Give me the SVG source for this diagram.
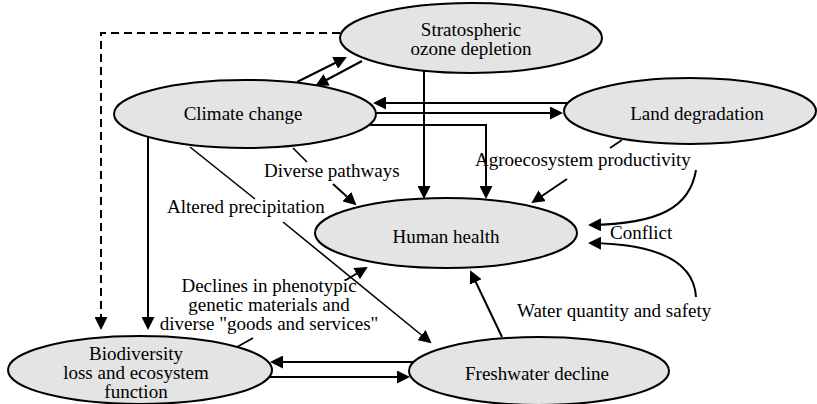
<svg xmlns="http://www.w3.org/2000/svg" width="817" height="404" viewBox="0 0 817 404">
<style>
.node ellipse{fill:#e4e4e4;stroke:#000;stroke-width:2}
text{font-family:"Liberation Serif","Times New Roman",serif;font-size:19px;fill:#000}
.c{text-anchor:middle}
.edge{fill:none;stroke:#000;stroke-width:2}
.thin{fill:none;stroke:#000;stroke-width:1.6}
.dash{stroke-dasharray:8 5}
</style>
<defs>
<marker id="ah" markerUnits="userSpaceOnUse" markerWidth="14" markerHeight="13" refX="11" refY="6.5" orient="auto">
<path d="M0,0 L13,6.5 L0,13 z" fill="#000"/>
</marker>
</defs>
<rect width="817" height="404" fill="#fff"/>
<g id="connectors">
<polyline class="edge dash" points="340,33 101,33 101,328" marker-end="url(#ah)"/>
<line class="edge" x1="297" y1="82" x2="345" y2="58" marker-end="url(#ah)"/>
<line class="edge" x1="362" y1="61" x2="317" y2="85" marker-end="url(#ah)"/>
<line class="edge" x1="567" y1="103" x2="375" y2="103" marker-end="url(#ah)"/>
<line class="edge" x1="370" y1="113" x2="561" y2="113" marker-end="url(#ah)"/>
<polyline class="edge" points="370,125 486,125 486,197" marker-end="url(#ah)"/>
<line class="edge" x1="424" y1="71" x2="424" y2="197" marker-end="url(#ah)"/>
<line class="edge" x1="148" y1="137" x2="148" y2="328" marker-end="url(#ah)"/>
<line class="thin" x1="622" y1="140" x2="610" y2="148"/>
<line class="edge" x1="567" y1="179" x2="533" y2="202" marker-end="url(#ah)"/>
<path class="edge" d="M696,170 C690,207 660,224 590,225" marker-end="url(#ah)"/>
<path class="edge" d="M696,297 C694,262 660,244 590,243" marker-end="url(#ah)"/>
<line class="edge" x1="502" y1="337" x2="471" y2="272" marker-end="url(#ah)"/>
<line class="thin" x1="190" y1="147" x2="255" y2="199"/>
<line class="thin" x1="283" y1="222" x2="430" y2="342" marker-end="url(#ah)"/>
<line class="thin" x1="293" y1="148" x2="307" y2="162"/>
<line class="edge" x1="333" y1="184" x2="355" y2="204" marker-end="url(#ah)"/>
<line class="thin" x1="237" y1="347" x2="253" y2="338"/>
<line class="edge" x1="346" y1="280" x2="366" y2="268" marker-end="url(#ah)"/>
<line class="edge" x1="414" y1="362" x2="272" y2="362" marker-end="url(#ah)"/>
<line class="edge" x1="269" y1="377" x2="408" y2="377" marker-end="url(#ah)"/>
</g>
<g id="ozone" class="node">
<ellipse cx="471" cy="38" rx="131" ry="35"/>
<text class="c" x="471" y="36">Stratospheric</text>
<text class="c" x="471" y="55">ozone depletion</text>
</g>
<g id="climate" class="node">
<ellipse cx="245" cy="114" rx="131" ry="34"/>
<text class="c" x="243" y="120">Climate change</text>
</g>
<g id="land" class="node">
<ellipse cx="690" cy="111" rx="126" ry="33"/>
<text class="c" x="697" y="120">Land degradation</text>
</g>
<g id="human" class="node">
<ellipse cx="446" cy="233" rx="131" ry="35"/>
<text class="c" x="446" y="243">Human health</text>
</g>
<g id="biodiversity" class="node">
<ellipse cx="140" cy="370" rx="132" ry="34"/>
<text class="c" x="136" y="360">Biodiversity</text>
<text class="c" x="136" y="379">loss and ecosystem</text>
<text class="c" x="136" y="398">function</text>
</g>
<g id="freshwater" class="node">
<ellipse cx="539" cy="371" rx="130" ry="34"/>
<text class="c" x="537" y="380">Freshwater decline</text>
</g>
<g id="labels">
<text x="264" y="177">Diverse pathways</text>
<text x="167" y="213">Altered precipitation</text>
<text x="475" y="166">Agroecosystem productivity</text>
<text x="610" y="239">Conflict</text>
<text x="517" y="317">Water quantity and safety</text>
<text class="c" x="269" y="292">Declines in phenotypic</text>
<text class="c" x="269" y="311">genetic materials and</text>
<text class="c" x="269" y="330">diverse "goods and services"</text>
</g>
</svg>
